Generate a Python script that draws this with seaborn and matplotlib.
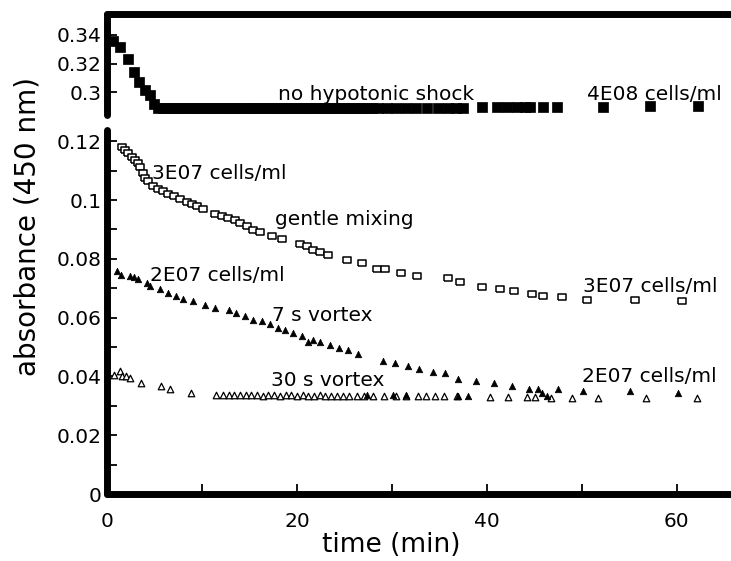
import matplotlib
matplotlib.use("Agg")
import matplotlib.pyplot as plt
from matplotlib import ticker
import seaborn as sns
import pandas as pd

# no hypotonic shock, 4E08 cells/ml (filled squares, upper panel)
shock_free_t = [
    0.6, 1.4, 2.2, 2.8, 3.4, 4.0, 4.5, 4.95, 5.4,
    5.9, 6.4, 6.9, 7.4, 7.9, 8.4, 8.9, 9.4, 9.9, 10.4, 10.9, 11.4, 11.9,
    12.4, 12.9, 13.4, 13.9, 14.4, 14.9, 15.4, 15.9, 16.4, 16.9, 17.4, 17.9,
    18.4, 18.9, 19.4, 19.9, 20.4, 20.9, 21.4, 21.9, 22.4, 22.9, 23.4, 23.9,
    24.4, 24.9, 25.4, 25.9, 26.4, 26.9, 27.4, 27.9, 28.5, 29.5, 30.4, 31.5,
    32.5, 33.7, 34.8, 35.9, 36.7, 37.5, 39.5, 41.1, 42.1, 43.2, 44.0, 44.5,
    45.9, 47.4, 52.2, 57.2, 62.2,
]
shock_free_abs = [
    0.336, 0.3314, 0.323, 0.3143, 0.3072, 0.3014, 0.298, 0.2916, 0.2885,
    0.2890, 0.2890, 0.2891, 0.2890, 0.2890, 0.2889, 0.2890, 0.2890, 0.2889, 0.2890, 0.2890, 0.2889, 0.2890,
    0.2890, 0.2889, 0.2890, 0.2890, 0.2889, 0.2890, 0.2890, 0.2890, 0.2889, 0.2890, 0.2890, 0.2889,
    0.2890, 0.2890, 0.2889, 0.2890, 0.2890, 0.2890, 0.2889, 0.2890, 0.2890, 0.2890, 0.2889, 0.2890,
    0.2890, 0.2890, 0.2889, 0.2890, 0.2890, 0.2890, 0.2890, 0.2890, 0.2890, 0.2890, 0.2890, 0.2890,
    0.2890, 0.2890, 0.2890, 0.2890, 0.2890, 0.2891, 0.2892, 0.2893, 0.2893, 0.2894, 0.2894, 0.2894,
    0.2895, 0.2896, 0.2898, 0.2899, 0.2899,
]

# gentle mixing, 3E07 cells/ml (open squares)
gentle_t = [
    1.55, 1.9, 2.2, 2.6, 2.95, 3.25, 3.5, 3.75, 4.0, 4.3, 4.85, 5.4, 5.9,
    6.4, 7.0, 7.7, 8.4, 8.9, 9.5, 10.1, 11.4, 12.1, 12.7, 13.5, 14.0, 14.7,
    15.4, 16.1, 17.4, 18.4, 20.3, 21.1, 21.7, 22.4, 23.3, 25.3, 26.8, 28.4,
    29.3, 31.0, 32.6, 35.9, 37.2, 39.5, 41.4, 42.9, 44.7, 45.9, 47.9, 50.5,
    55.6, 60.5,
]
gentle_abs = [
    0.1182, 0.1170, 0.1160, 0.1148, 0.1137, 0.1127, 0.1113, 0.1093, 0.1076, 0.1063, 0.1047, 0.1037, 0.1030,
    0.1020, 0.1014, 0.1004, 0.0994, 0.0987, 0.0980, 0.0971, 0.0951, 0.0944, 0.0938, 0.0931, 0.0921, 0.0911,
    0.0898, 0.0891, 0.0878, 0.0869, 0.0849, 0.0843, 0.0829, 0.0823, 0.0813, 0.0797, 0.0785, 0.0767,
    0.0765, 0.0752, 0.0742, 0.0734, 0.0721, 0.0705, 0.0697, 0.0690, 0.0681, 0.0672, 0.0670, 0.0661,
    0.0660, 0.0658,
]

# 7 s vortex, 2E07 cells/ml (filled triangles)
vortex7_t = [
    1.1, 1.5, 2.4, 2.8, 3.3, 4.2, 4.5, 5.6, 6.45, 7.3, 8.0, 9.1, 10.3, 11.4,
    12.8, 13.6, 14.5, 15.4, 16.3, 17.2, 18.0, 18.7, 19.6, 20.5, 21.2, 21.7,
    22.4, 23.5, 24.4, 25.4, 26.4, 29.1, 30.3, 31.7, 32.9, 34.3, 35.6, 37.0,
    38.9, 40.7, 42.6, 44.4, 45.4, 47.5, 50.1, 55.1, 60.1,
    27.4, 30.1, 31.5, 37.0, 38.0, 45.8, 46.3,
]
vortex7_abs = [
    0.0760, 0.0745, 0.0740, 0.0738, 0.0731, 0.0718, 0.0709, 0.0696, 0.0685, 0.0674, 0.0663, 0.0655, 0.0644, 0.0633,
    0.0626, 0.0615, 0.0604, 0.0593, 0.0588, 0.0577, 0.0566, 0.0558, 0.0547, 0.0536, 0.0517, 0.0525,
    0.0517, 0.0506, 0.0498, 0.0490, 0.0476, 0.0454, 0.0445, 0.0435, 0.0424, 0.0415, 0.0411, 0.0391,
    0.0386, 0.0378, 0.0367, 0.0358, 0.0358, 0.0356, 0.0351, 0.0352, 0.0345,
    0.0336, 0.0336, 0.0336, 0.0335, 0.0335, 0.0345, 0.0335,
]

# 30 s vortex, 2E07 cells/ml (open triangles)
vortex30_t = [
    0.7, 1.4, 1.6, 2.0, 2.4, 3.6, 5.7, 6.6, 8.8, 11.5, 12.2, 12.8, 13.4, 14.0,
    14.6, 15.2, 15.8, 16.4, 17.0, 17.6, 18.2, 18.8, 19.4, 20.0, 20.6, 21.2,
    21.8, 22.4, 23.0, 23.6, 24.2, 24.8, 25.5, 26.3, 27.1, 28.0, 29.2, 30.4,
    31.5, 32.7, 33.6, 34.5, 35.5, 36.8, 40.3, 42.2, 44.2, 45.1, 46.8, 49.0,
    51.7, 56.8, 62.1,
]
vortex30_abs = [
    0.0405, 0.0417, 0.0403, 0.0400, 0.0394, 0.0377, 0.0368, 0.0357, 0.0344, 0.0336, 0.0337, 0.0336, 0.0336, 0.0336,
    0.0336, 0.0336, 0.0336, 0.0335, 0.0336, 0.0336, 0.0335, 0.0336, 0.0336, 0.0335, 0.0336, 0.0335,
    0.0335, 0.0336, 0.0335, 0.0335, 0.0335, 0.0335, 0.0335, 0.0335, 0.0335, 0.0335, 0.0334, 0.0334,
    0.0334, 0.0334, 0.0333, 0.0333, 0.0333, 0.0332, 0.0330, 0.0330, 0.0331, 0.0330, 0.0328, 0.0328,
    0.0327, 0.0327, 0.0327,
]

upper_ticks = [0.30, 0.32, 0.34]
lower_ticks = [0, 0.02, 0.04, 0.06, 0.08, 0.10, 0.12]
time_ticks = [0, 20, 40, 60]

SPINE_W = 5
FS_TICK = 14.5
FS_NOTE = 14.5
FLAT_RECT = [(-1, -0.62), (1, -0.62), (1, 0.62), (-1, 0.62), (-1, -0.62)]

sns.set_style("ticks")
plt.rcParams.update({
    "font.family": ["DejaVu Sans"],
    "text.color": "black",
    "axes.edgecolor": "black",
    "xtick.color": "black",
    "ytick.color": "black",
})


def style_axis(ax, show):
    for side in ["top", "bottom", "left", "right"]:
        ax.spines[side].set_visible(side in show)
        ax.spines[side].set_linewidth(SPINE_W)
        ax.spines[side].set_color("black")
        ax.spines[side].set_capstyle("round")
    ax.tick_params(axis="y", which="both", direction="in", length=7, width=1.3,
                   labelsize=FS_TICK, pad=4, colors="black")


fig = plt.figure(figsize=(7.31, 5.61), dpi=100)
ax_top = fig.add_axes([0.1464, 0.795, 0.8536, 0.180])
ax_bot = fig.add_axes([0.1464, 0.1194, 0.8536, 0.6488])

# upper panel
sns.scatterplot(
    data=pd.DataFrame({"t": shock_free_t, "a": shock_free_abs}), x="t", y="a",
    marker="s", s=46, color="black", edgecolor="black", linewidth=0.5, ax=ax_top
)
ax_top.set_xlim(0, 65.7)
ax_top.set_ylim(0.2839, 0.3547)
ax_top.set_yticks(upper_ticks)
ax_top.yaxis.set_major_formatter(ticker.FormatStrFormatter("%g"))
ax_top.set_xticks([])
ax_top.set_xlabel("")
ax_top.set_ylabel("")
style_axis(ax_top, ["top", "left"])
ax_top.text(18.0, 0.2944, "no hypotonic shock", fontsize=FS_NOTE)
ax_top.text(50.5, 0.2944, "4E08 cells/ml", fontsize=FS_NOTE)

# lower panel
sns.scatterplot(
    data=pd.DataFrame({"t": gentle_t, "a": gentle_abs}), x="t", y="a",
    marker=FLAT_RECT, s=34, color="white", edgecolor="black", linewidth=1.1, ax=ax_bot
)
sns.scatterplot(
    data=pd.DataFrame({"t": vortex30_t, "a": vortex30_abs}), x="t", y="a",
    marker="^", s=22, color="white", edgecolor="black", linewidth=0.9, ax=ax_bot
)
sns.scatterplot(
    data=pd.DataFrame({"t": vortex7_t, "a": vortex7_abs}), x="t", y="a",
    marker="^", s=22, color="black", edgecolor="black", linewidth=0.5, ax=ax_bot
)
ax_bot.set_xlim(0, 65.7)
ax_bot.set_ylim(0, 0.1238)
ax_bot.set_yticks(lower_ticks)
ax_bot.yaxis.set_minor_locator(ticker.MultipleLocator(0.01))
ax_bot.yaxis.set_major_formatter(ticker.FormatStrFormatter("%g"))
ax_bot.set_xticks(time_ticks)
ax_bot.xaxis.set_minor_locator(ticker.MultipleLocator(10))
ax_bot.set_xlabel("")
ax_bot.set_ylabel("")
style_axis(ax_bot, ["bottom", "left"])
ax_bot.tick_params(axis="x", which="both", direction="in", length=7, width=1.3,
                   labelsize=FS_TICK, pad=13, colors="black")

notes = [
    (4.7, 0.1070, "3E07 cells/ml"),
    (17.7, 0.0916, "gentle mixing"),
    (50.1, 0.0687, "3E07 cells/ml"),
    (4.5, 0.0723, "2E07 cells/ml"),
    (17.4, 0.0589, "7 s vortex"),
    (17.3, 0.0368, "30 s vortex"),
    (50.0, 0.0381, "2E07 cells/ml"),
]
for x, y, s in notes:
    ax_bot.text(x, y, s, fontsize=FS_NOTE)

fig.text(0.038, 1 - 226 / 561, "absorbance (450 nm)", rotation=90,
         fontsize=20, ha="center", va="center")
fig.text(391 / 731, 1 - 545 / 561, "time (min)", fontsize=19,
         ha="center", va="center")

fig.savefig("out.png", dpi=100)
